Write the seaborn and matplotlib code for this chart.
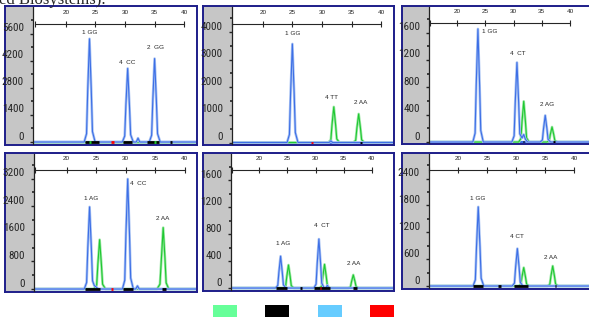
import matplotlib
matplotlib.use("Agg")
import matplotlib.pyplot as plt
import matplotlib.transforms as mtransforms
from matplotlib import font_manager
from matplotlib.patches import Patch
from matplotlib.ticker import MultipleLocator
import seaborn as sns

# --- values ---
# x = fragment size on the top ruler, y = signal (RFU)

# panel 1 (top left)
P1_BLUE_X = [14.0, 23.1, 23.5, 23.7, 24.0, 24.3, 24.5, 24.95, 29.55, 29.95, 30.15, 30.45, 30.75, 30.95, 31.4,
             31.9, 32.2, 32.5, 34.1, 34.5, 34.7, 35.0, 35.3, 35.5, 35.95, 44.0]
P1_BLUE_Y = [0, 0, 430, 2680, 5330, 2680, 540, 0, 0, 310, 1900, 3800, 1900, 380, 0,
             0, 200, 0, 0, 350, 2160, 4310, 2160, 430, 0, 0]
P1_GREEN_X = [14.0, 44.0]
P1_GREEN_Y = [0, 0]
P1_LABELS = ["1 GG", "4  CC", "2  GG"]
P1_LABEL_X = [24.05, 30.3, 35.1]
P1_LABEL_Y = [5650, 4120, 4890]
P1_YTICKS = [0, 1400, 2800, 4200, 5600]

# panel 2 (top middle)
P2_BLUE_X = [14.0, 24.1, 24.5, 24.7, 25.0, 25.3, 25.5, 25.95, 31.2, 31.5, 31.8, 44.0]
P2_BLUE_Y = [0, 0, 290, 1790, 3570, 1790, 360, 0, 0, 60, 0, 0]
P2_GREEN_X = [14.0, 31.1, 31.5, 31.7, 32.0, 32.3, 32.5, 32.95, 35.3, 35.7, 35.9, 36.2, 36.5, 36.7, 37.15, 44.0]
P2_GREEN_Y = [0, 0, 100, 650, 1290, 650, 130, 0, 0, 80, 520, 1035, 520, 100, 0, 0]
P2_LABELS = ["1 GG", "4 TT", "2 AA"]
P2_LABEL_X = [25.0, 31.6, 36.5]
P2_LABEL_Y = [3945, 1625, 1445]
P2_YTICKS = [0, 1000, 2000, 3000, 4000]

# panel 3 (top right)
P3_BLUE_X = [14.0, 22.8, 23.2, 23.4, 23.7, 24.0, 24.2, 24.65, 29.7, 30.1, 30.3, 30.6, 30.9, 31.1, 31.5,
             31.8, 32.1, 32.5, 34.7, 35.1, 35.3, 35.6, 35.9, 36.1, 36.55, 44.5]
P3_BLUE_Y = [0, 0, 130, 830, 1653, 830, 170, 0, 0, 90, 580, 1163, 580, 120, 60,
             110, 40, 0, 0, 30, 195, 389, 195, 40, 0, 0]
P3_GREEN_X = [14.0, 30.9, 31.3, 31.5, 31.8, 32.1, 32.3, 32.75, 35.9, 36.3, 36.5, 36.8, 37.1, 37.3, 37.75, 44.5]
P3_GREEN_Y = [0, 0, 50, 300, 595, 300, 60, 0, 0, 18, 110, 220, 110, 22, 0, 0]
P3_LABELS = ["1 GG", "4  CT", "2 AG"]
P3_LABEL_X = [25.7, 30.8, 35.9]
P3_LABEL_Y = [1613, 1297, 547]
P3_YTICKS = [0, 400, 800, 1200, 1600]

# panel 4 (bottom left)
P4_BLUE_X = [14.0, 23.0, 23.4, 23.6, 23.9, 24.2, 24.4, 24.7, 25.0, 25.4, 29.45, 29.85, 30.05, 30.35, 30.65,
             30.85, 31.3, 31.7, 32.0, 32.3, 44.0]
P4_BLUE_Y = [0, 0, 190, 1190, 2380, 1190, 240, 100, 60, 0, 0, 255, 1600, 3190, 1600,
             320, 0, 0, 90, 0, 0]
P4_GREEN_X = [14.0, 24.6, 25.1, 25.3, 25.6, 25.9, 26.1, 26.6, 35.3, 35.8, 36.05, 36.35, 36.65, 36.85, 37.3, 44.0]
P4_GREEN_Y = [0, 0, 115, 715, 1430, 715, 140, 0, 0, 140, 890, 1780, 890, 180, 0, 0]
P4_LABELS = ["1 AG", "4  CC", "2 AA"]
P4_LABEL_X = [24.1, 32.1, 36.35]
P4_LABEL_Y = [2630, 3057, 2030]
P4_YTICKS = [0, 800, 1600, 2400, 3200]

# panel 5 (bottom middle)
P5_BLUE_X = [14.0, 22.9, 23.3, 23.5, 23.8, 24.1, 24.3, 24.75, 29.7, 30.1, 30.3, 30.6, 30.9, 31.1, 31.55,
             31.8, 32.1, 32.4, 44.0]
P5_BLUE_Y = [0, 0, 38, 236, 473, 236, 47, 0, 0, 58, 364, 728, 364, 73, 0,
             0, 40, 0, 0]
P5_GREEN_X = [14.0, 24.3, 24.7, 24.9, 25.2, 25.5, 25.7, 26.15, 30.7, 31.1, 31.3, 31.6, 31.9, 32.1, 32.55,
              35.8, 36.2, 36.4, 36.7, 37.0, 37.2, 37.65, 44.0]
P5_GREEN_Y = [0, 0, 27, 171, 342, 171, 34, 0, 0, 28, 176, 352, 176, 35, 0,
              0, 16, 98, 195, 98, 20, 0, 0]
P5_LABELS = ["1 AG", "4  CT", "2 AA"]
P5_LABEL_X = [24.2, 31.05, 36.7]
P5_LABEL_Y = [659, 923, 366]
P5_YTICKS = [0, 400, 800, 1200, 1600]

# panel 6 (bottom right)
P6_BLUE_X = [14.0, 22.55, 22.95, 23.15, 23.45, 23.75, 23.95, 24.4, 29.3, 29.7, 29.9, 30.2, 30.5, 30.7, 31.15, 44.5]
P6_BLUE_Y = [0, 0, 140, 880, 1767, 880, 175, 0, 0, 65, 420, 836, 420, 85, 0, 0]
P6_GREEN_X = [14.0, 30.4, 30.8, 31.0, 31.3, 31.6, 31.8, 32.25, 35.4, 35.8, 36.0, 36.3, 36.6, 36.8, 37.25, 44.5]
P6_GREEN_Y = [0, 0, 33, 205, 411, 205, 41, 0, 0, 36, 224, 447, 224, 45, 0, 0]
P6_LABELS = ["1 GG", "4 CT", "2 AA"]
P6_LABEL_X = [23.4, 30.1, 36.0]
P6_LABEL_Y = [1960, 1100, 638]
P6_YTICKS = [0, 600, 1200, 1800, 2400]

# size-bin markers along the baseline: start, end, colour
P1_BINS = [(23.3, 25.6, "black"), (27.6, 28.2, "red"), (29.7, 31.2, "black"), (33.7, 35.7, "black"),
           (37.6, 38.0, "black"), (23.9, 24.2, "#22cc33"), (34.9, 35.2, "#22cc33")]
P2_BINS = [(28.1, 28.5, "red"), (36.4, 36.8, "black")]
P3_BINS = [(31.6, 31.9, "black"), (36.9, 37.3, "black")]
P4_BINS = [(23.1, 25.6, "black"), (27.6, 27.8, "red"), (29.5, 31.2, "black"), (36.1, 36.9, "black")]
P5_BINS = [(22.9, 24.9, "black"), (27.2, 27.6, "black"), (29.8, 32.5, "black"), (30.8, 31.0, "red"),
           (36.7, 37.4, "black")]
P6_BINS = [(22.5, 24.3, "black"), (26.8, 27.4, "black"), (29.6, 32.1, "black"), (36.7, 36.9, "black")]

DYE_COLORS = ["#66ff99", "#000000", "#66ccff", "#ff0000"]
RULER_TICKS = [20, 25, 30, 35, 40]

# --- layout (pixels of the 589x324 image) ---
W, H = 589, 324
BLUE = "#3d6fe6"
BLUE_LIGHT = "#a9c3f3"
GREEN = "#1fc832"
GREEN_LIGHT = "#9ee8a6"
GRAY = "#c6c6c6"
NAVY = "#1e1e8a"

# frame x0, y0, x1, y1, end of gray strip, xlim, ylim, ruler height (axes frac), ruler start, minor step
LAYOUT = [
    (5, 6, 197, 145, 33, (14.45, 42.0), (-102, 6973), 0.878, 14.8, 700),
    (203, 6, 394, 145, 232, (14.8, 42.0), (-54, 4908), 0.878, 14.8, 500),
    (402, 6, 596, 144, 429, (15.05, 44.4), (-14, 1974), 0.884, 15.2, 200),
    (5, 153, 197, 292, 34, (14.5, 41.9), (-57, 3914), 0.885, 14.7, 400),
    (203, 153, 394, 291, 231, (15.0, 43.75), (-29, 1992), 0.884, 15.1, 200),
    (402, 153, 596, 289, 429, (14.95, 43.6), (-44, 2948), 0.882, 15.0, 300),
]

PANELS = [
    (P1_BLUE_X, P1_BLUE_Y, P1_GREEN_X, P1_GREEN_Y, P1_LABELS, P1_LABEL_X, P1_LABEL_Y, P1_YTICKS, P1_BINS),
    (P2_BLUE_X, P2_BLUE_Y, P2_GREEN_X, P2_GREEN_Y, P2_LABELS, P2_LABEL_X, P2_LABEL_Y, P2_YTICKS, P2_BINS),
    (P3_BLUE_X, P3_BLUE_Y, P3_GREEN_X, P3_GREEN_Y, P3_LABELS, P3_LABEL_X, P3_LABEL_Y, P3_YTICKS, P3_BINS),
    (P4_BLUE_X, P4_BLUE_Y, P4_GREEN_X, P4_GREEN_Y, P4_LABELS, P4_LABEL_X, P4_LABEL_Y, P4_YTICKS, P4_BINS),
    (P5_BLUE_X, P5_BLUE_Y, P5_GREEN_X, P5_GREEN_Y, P5_LABELS, P5_LABEL_X, P5_LABEL_Y, P5_YTICKS, P5_BINS),
    (P6_BLUE_X, P6_BLUE_Y, P6_GREEN_X, P6_GREEN_Y, P6_LABELS, P6_LABEL_X, P6_LABEL_Y, P6_YTICKS, P6_BINS),
]


def px_box(x0, y0, x1, y1):
    return [x0 / W, 1 - y1 / H, (x1 - x0) / W, (y1 - y0) / H]


def pick_narrow_font():
    # the y labels in the original are set in a condensed face; use one if installed
    fonts = font_manager.fontManager.ttflist
    names = {f.name for f in fonts}
    for name in ["Liberation Sans Narrow", "Roboto Condensed", "Open Sans Condensed", "DejaVu Sans Condensed"]:
        if name in names:
            return dict(family=[name, "DejaVu Sans"], stretch="normal", size=8)
    for f in fonts:
        if f.name in ("DejaVu Sans", "Roboto", "Open Sans", "Noto Sans") and f.style == "normal":
            if f.stretch in ("condensed", "semi-condensed", 300, 400):
                return dict(family=[f.name], stretch=f.stretch, size=7.6)
    return dict(family=["Liberation Sans", "DejaVu Sans"], stretch="normal", size=6.8)


sns.set_style("white")
plt.rcParams["font.family"] = ["Liberation Sans", "DejaVu Sans"]
NARROW = pick_narrow_font()

fig = plt.figure(figsize=(W / 100, H / 100), dpi=100)

for (bx, by, gx, gy, labels, lx, ly, yticks, bins), lay in zip(PANELS, LAYOUT):
    x0, y0, x1, y1, gray_end, xlim, ylim, ruler_pos, ruler_start, minor = lay

    # window frame with the gray strip behind the y labels
    frame = fig.add_axes(px_box(x0, y0, x1, y1))
    frame.set_facecolor(GRAY)
    frame.set_xticks([])
    frame.set_yticks([])
    for sp in frame.spines.values():
        sp.set_color(NAVY)
        sp.set_linewidth(1.4)

    ax = fig.add_axes(px_box(gray_end, y0 + 1, x1 - 1, y1 - 1))
    ax.set_facecolor("white")
    for side in ["top", "right", "bottom"]:
        ax.spines[side].set_visible(False)
    ax.spines["left"].set_color("#222222")
    ax.spines["left"].set_linewidth(0.9)

    # traces: pale underlay + darker line gives the doubled look of the scan
    sns.lineplot(x=gx, y=gy, ax=ax, color=GREEN_LIGHT, lw=1.9, sort=False, estimator=None)
    sns.lineplot(x=gx, y=gy, ax=ax, color=GREEN, lw=0.8, sort=False, estimator=None)
    sns.lineplot(x=bx, y=by, ax=ax, color=BLUE_LIGHT, lw=1.9, sort=False, estimator=None)
    sns.lineplot(x=bx, y=by, ax=ax, color=BLUE, lw=0.8, sort=False, estimator=None)
    ax.axhline(0, color=BLUE, lw=1.6, zorder=1)

    for start, end, col in bins:
        ax.hlines(0, start, end, colors=col, lw=2.0, zorder=3)

    for txt, tx, ty in zip(labels, lx, ly):
        ax.text(tx, ty, txt, ha="center", va="center", fontsize=4.6)

    ax.set_xlim(*xlim)
    ax.set_ylim(*ylim)
    ax.set_xticks([])
    ax.set_xlabel("")
    ax.set_ylabel("")

    ax.set_yticks(yticks)
    ax.set_yticklabels([str(v) for v in yticks])
    ax.yaxis.set_minor_locator(MultipleLocator(minor))
    ax.tick_params(axis="y", which="major", direction="out", length=2.5, width=1.0, pad=4,
                   labelsize=NARROW["size"], left=True)
    ax.tick_params(axis="y", which="minor", direction="out", length=1.2, width=1.2, left=True)
    shift = mtransforms.ScaledTranslation(0, 0.065, fig.dpi_scale_trans)
    for lab in ax.get_yticklabels():
        lab.set_fontfamily(NARROW["family"])
        lab.set_fontstretch(NARROW["stretch"])
        lab.set_transform(lab.get_transform() + shift)

    # size ruler along the top
    ruler = ax.secondary_xaxis(ruler_pos)
    ruler.set_xticks(RULER_TICKS)
    ruler.set_xticks([ruler_start], minor=True)
    ruler.tick_params(direction="inout", length=5, width=0.8, labelsize=4.6, pad=4)
    ruler.tick_params(which="minor", direction="inout", length=4, width=0.8)
    ruler.spines["top"].set_bounds(ruler_start, RULER_TICKS[-1])
    ruler.spines["top"].set_linewidth(0.8)

fig.text(-1 / W, 1 - 4 / H, "ed Biosystems).", family=["Liberation Serif", "DejaVu Serif"],
         fontsize=12, va="baseline", ha="left")

fig.legend(handles=[Patch(facecolor=c, edgecolor="none") for c in DYE_COLORS],
           labels=[""] * len(DYE_COLORS), ncol=4, loc="center",
           bbox_to_anchor=(303.5 / W, 1 - 311 / H), frameon=False, fontsize=7,
           handlelength=2.47, handleheight=1.44, handletextpad=0, columnspacing=2.9,
           borderpad=0, borderaxespad=0)

fig.savefig("out.png", dpi=100)
